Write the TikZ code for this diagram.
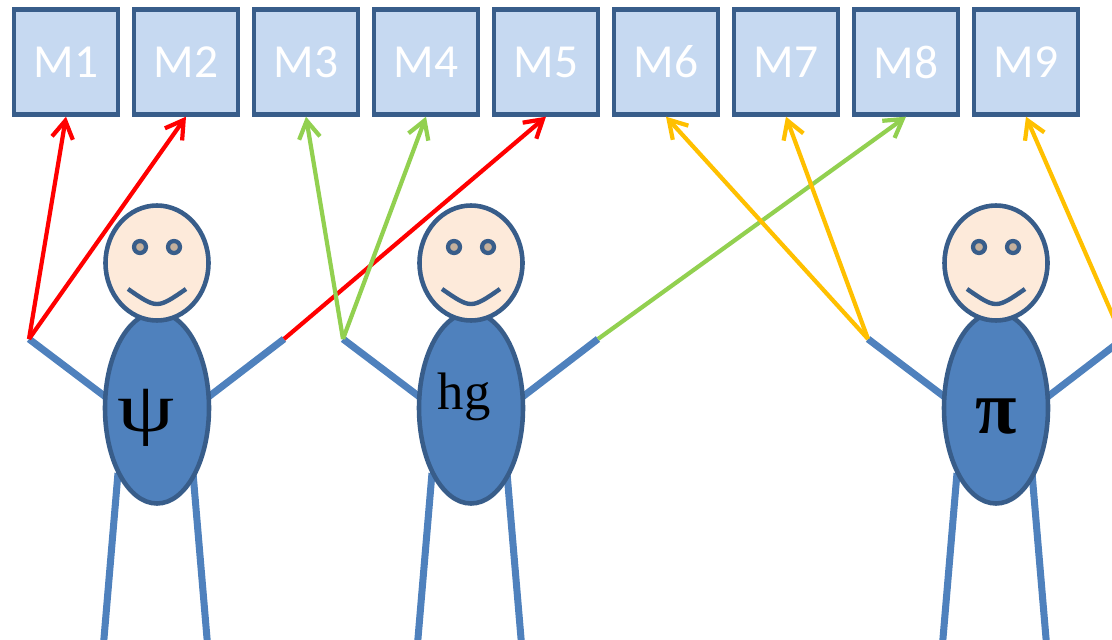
\documentclass[tikz,border=0pt]{standalone}
\usepackage{fontspec}
\setmainfont{Liberation Serif}
\newfontfamily\boxfont{Carlito}
\usepackage{xcolor}
\usepackage{graphicx}
\usetikzlibrary{arrows.meta}

\definecolor{boxfill}{HTML}{C6D9F1}
\definecolor{edge}{HTML}{385D8A}
\definecolor{bodyblue}{HTML}{4F81BD}
\definecolor{skin}{HTML}{FDEADA}
\definecolor{pupil}{HTML}{C4B09C}
\definecolor{linkred}{HTML}{FF0000}
\definecolor{linkgreen}{HTML}{92D050}
\definecolor{linkorange}{HTML}{FFC000}

\begin{document}
\begin{tikzpicture}[x=0.02cm, y=-0.02cm,
mbox/.style={draw=edge, fill=boxfill, line width=2.5pt, minimum width=2.09cm,
  minimum height=2.1cm, inner sep=0pt, text=white, font=\boxfont\fontsize{27}{27}\selectfont},
limb/.style={draw=bodyblue, line width=4pt},
outline/.style={draw=edge, line width=2.6pt},
link/.style={line width=2.4pt, -{Straight Barb[length=10pt, width=12pt]}}]
\clip (0,0) rectangle (1112,639);

% row of boxes along the top
\foreach \i in {1,...,9}
	\node[mbox] (m\i) at (66+120*\i-120, 62) {M\i};

% the three little men
\foreach \who/\x in {psi/157, hg/471, pi/996} {
	\coordinate (left hand \who) at (\x-128, 339);
	\coordinate (right hand \who) at (\x+127, 339);
	\draw[limb] (left hand \who) -- (\x-50, 398);
	\draw[limb] (right hand \who) -- (\x+50, 398);
	\draw[limb] (\x-39, 473) -- (\x-54, 650);
	\draw[limb] (\x+36, 473) -- (\x+51, 650);
	\draw[outline, fill=bodyblue] (\x, 408) ellipse [x radius=52, y radius=95.5];
	\draw[outline, fill=skin] (\x, 263) ellipse [x radius=51.5, y radius=57.5];
	\draw[draw=edge, line width=2.4pt, fill=pupil] (\x-17, 247) circle [radius=6]
		(\x+17, 247) circle [radius=6];
	\draw[draw=edge, line width=2.5pt] (\x-29, 289) .. controls (\x, 309) .. (\x+29, 289);
}

\node[font=\fontsize{40}{40}\selectfont] (psi label) at (146, 418) {\scalebox{1.3}[1]{ψ}};
\node[font=\fontsize{30}{30}\selectfont] (hg label) at (464, 397) {hg};
\node[font=\bfseries\fontsize{43}{43}\selectfont] (pi label) at (996, 417) {π};

% who points at which box
\draw[link, linkred] (left hand psi) -- (m1.south);
\draw[link, linkred] (left hand psi) -- (m2.south);
\draw[link, linkred] (right hand psi) -- (m5.south);
\draw[link, linkgreen] (left hand hg) -- (m3.south);
\draw[link, linkgreen] (left hand hg) -- (m4.south);
\draw[link, linkgreen] (right hand hg) -- (m8.south);
\draw[link, linkorange] (left hand pi) -- (m6.south);
\draw[link, linkorange] (left hand pi) -- (m7.south);
\draw[link, linkorange] (right hand pi) -- (m9.south);
\end{tikzpicture}
\end{document}
